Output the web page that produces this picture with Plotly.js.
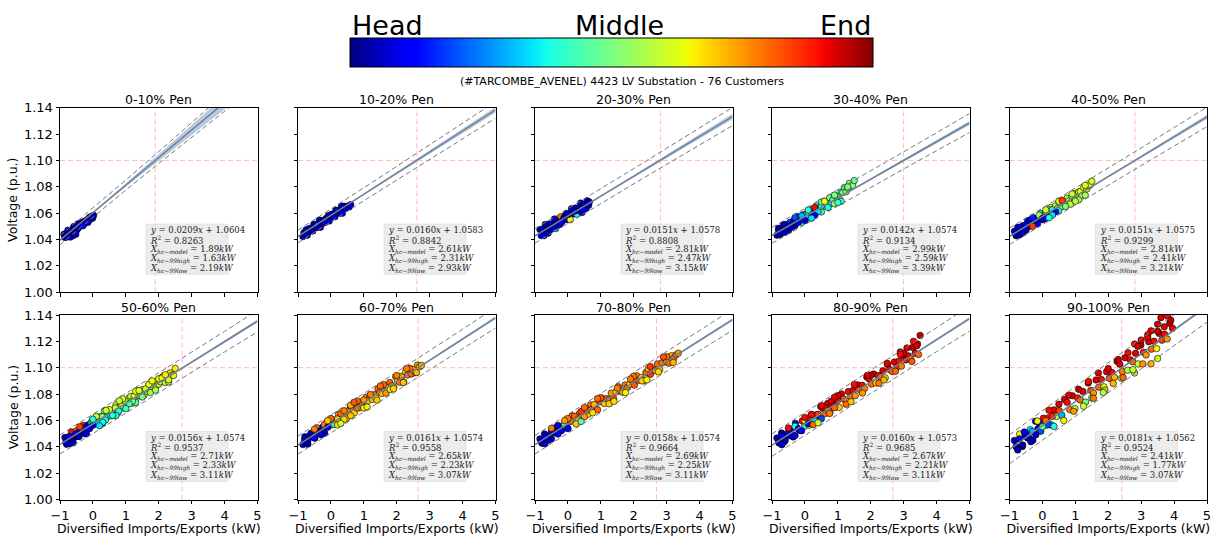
<!DOCTYPE html>
<html><head><meta charset="utf-8">
<script src="https://cdn.plot.ly/plotly-3.0.1.min.js"></script>
<style>html,body{margin:0;padding:0;background:#fff;}#chart{width:1213px;height:536px;}</style>
</head><body><div id="chart"></div>
<script>
// ---------- data ----------
const panelTitles = ['0-10% Pen','10-20% Pen','20-30% Pen','30-40% Pen','40-50% Pen','50-60% Pen','60-70% Pen','70-80% Pen','80-90% Pen','90-100% Pen'];
const slopes = [0.0209,0.0160,0.0151,0.0142,0.0151,0.0156,0.0161,0.0158,0.0160,0.0181];
const intercepts = [1.0604,1.0583,1.0578,1.0574,1.0575,1.0574,1.0574,1.0574,1.0573,1.0562];
const r2 = [0.8263,0.8842,0.8808,0.9134,0.9299,0.9537,0.9558,0.9664,0.9685,0.9524];
const xhcModel = [1.89,2.61,2.81,2.99,2.81,2.71,2.65,2.69,2.67,2.41];
const xhcHigh = [1.63,2.31,2.47,2.59,2.41,2.33,2.23,2.25,2.21,1.77];
const xhcLow = [2.19,2.93,3.15,3.39,3.21,3.11,3.07,3.11,3.11,3.07];
const xTicks = [-1,0,1,2,3,4,5];
const yTicks = [1.00,1.02,1.04,1.06,1.08,1.10,1.12,1.14];
const colorLabels = ['Head','Middle','End'];
const subTitle = '(#TARCOMBE_AVENEL) 4423 LV Substation - 76 Customers';
const xTitle = 'Diversified Imports/Exports (kW)';
const yTitle = 'Voltage (p.u.)';
const voltageLimit = 1.10;
// confidence band / prediction interval half-widths read at bandX
const bandX = [-1,0,1,2,3,4,5];
const ciHalf = [
 [0.0008,0.0004,0.0012,0.0025,0.0038,0.0052,0.0066],
 [0.0004,0.0003,0.0006,0.0010,0.0014,0.0018,0.0022],
 [0.0004,0.0003,0.0006,0.0009,0.0013,0.0017,0.0021],
 [0.0004,0.0003,0.0004,0.0007,0.0010,0.0013,0.0016],
 [0.0004,0.0003,0.0004,0.0007,0.0010,0.0013,0.0016],
 [0.0003,0.0002,0.0003,0.0005,0.0007,0.0009,0.0011],
 [0.0003,0.0002,0.0003,0.0005,0.0007,0.0009,0.0011],
 [0.0003,0.0002,0.0003,0.0005,0.0007,0.0009,0.0011],
 [0.0003,0.0002,0.0003,0.0005,0.0007,0.0009,0.0011],
 [0.0004,0.0003,0.0004,0.0006,0.0008,0.0010,0.0012]];
const piHalf = [
 [0.0035,0.0034,0.0038,0.0045,0.0055,0.0066,0.0078],
 [0.0048,0.0047,0.0049,0.0052,0.0055,0.0059,0.0063],
 [0.0055,0.0054,0.0056,0.0058,0.0061,0.0065,0.0069],
 [0.0060,0.0060,0.0060,0.0062,0.0065,0.0068,0.0072],
 [0.0062,0.0062,0.0062,0.0064,0.0067,0.0070,0.0074],
 [0.0072,0.0072,0.0072,0.0073,0.0075,0.0078,0.0082],
 [0.0068,0.0068,0.0068,0.0069,0.0071,0.0074,0.0078],
 [0.0070,0.0070,0.0070,0.0071,0.0073,0.0076,0.0080],
 [0.0085,0.0085,0.0085,0.0086,0.0088,0.0091,0.0095],
 [0.0110,0.0110,0.0110,0.0112,0.0115,0.0118,0.0122]];

// scatter points: x (kW), y (p.u.), c (position along feeder 0=head..1=end)
const p1x = [-0.88,-0.85,-0.82,-0.79,-0.76,-0.73,-0.70,-0.67,-0.64,-0.61,-0.58,-0.55,-0.52,-0.49,-0.46,-0.43,-0.40,-0.37,-0.34,-0.31,-0.28,-0.25,-0.22,-0.19,-0.16,-0.13,-0.10,-0.07,-0.04,-0.01,0.02,-0.75,-0.68,-0.60,-0.52,-0.45,-0.30,-0.15,-0.05];
const p1y = [1.0440,1.0416,1.0443,1.0419,1.0470,1.0446,1.0468,1.0439,1.0475,1.0462,1.0498,1.0469,1.0495,1.0472,1.0518,1.0499,1.0520,1.0502,1.0528,1.0519,1.0535,1.0522,1.0543,1.0539,1.0551,1.0542,1.0568,1.0559,1.0571,1.0562,1.0583,1.0425,1.0418,1.0430,1.0440,1.0485,1.0505,1.0530,1.0575];
const p1c = [0.05,0.08,0.04,0.1,0.06,0.03,0.09,0.05,0.07,0.1,0.04,0.08,0.06,0.05,0.09,0.03,0.07,0.1,0.05,0.08,0.06,0.04,0.09,0.07,0.05,0.1,0.06,0.08,0.04,0.07,0.05,0.06,0.09,0.04,0.07,0.05,0.1,0.08,0.06];

const p2x = [-0.85,-0.82,-0.78,-0.75,-0.72,-0.68,-0.65,-0.62,-0.58,-0.55,-0.52,-0.48,-0.45,-0.42,-0.38,-0.35,-0.32,-0.28,-0.25,-0.22,-0.18,-0.15,-0.12,-0.08,-0.05,-0.02,0.02,0.05,0.08,0.12,0.15,0.18,0.22,0.25,0.28,0.32,0.35,0.40,0.45,0.50,0.55,0.60];
const p2y = [1.0422,1.0452,1.0443,1.0473,1.0433,1.0469,1.0484,1.0464,1.0480,1.0465,1.0515,1.0491,1.0511,1.0491,1.0517,1.0547,1.0492,1.0543,1.0523,1.0538,1.0529,1.0559,1.0549,1.0580,1.0540,1.0575,1.0591,1.0571,1.0586,1.0572,1.0622,1.0597,1.0618,1.0598,1.0623,1.0654,1.0599,1.0652,1.0635,1.0653,1.0646,1.0664];
const p2c = [0.05,0.08,0.04,0.1,0.06,0.18,0.05,0.07,0.09,0.04,0.06,0.1,0.05,0.08,0.2,0.06,0.04,0.09,0.07,0.05,0.1,0.06,0.15,0.04,0.08,0.05,0.09,0.07,0.05,0.1,0.06,0.08,0.18,0.05,0.07,0.04,0.09,0.06,0.1,0.05,0.08,0.07];

const p3x = [-0.85,-0.81,-0.77,-0.73,-0.69,-0.65,-0.61,-0.57,-0.53,-0.49,-0.45,-0.41,-0.37,-0.33,-0.29,-0.25,-0.21,-0.17,-0.13,-0.09,-0.05,-0.01,0.03,0.07,0.11,0.15,0.19,0.23,0.27,0.31,0.35,0.39,0.43,0.47,0.51,0.55,0.59,0.63,-0.6,-0.4,-0.2,0.0,0.2,0.45,0.6,0.65];
const p3y = [1.0476,1.0430,1.0475,1.0429,1.0513,1.0480,1.0473,1.0518,1.0472,1.0517,1.0497,1.0555,1.0483,1.0528,1.0547,1.0514,1.0572,1.0539,1.0558,1.0577,1.0596,1.0550,1.0596,1.0550,1.0634,1.0601,1.0594,1.0639,1.0593,1.0638,1.0618,1.0676,1.0604,1.0649,1.0668,1.0635,1.0693,1.0660,1.0448,1.0500,1.0530,1.0590,1.0615,1.0630,1.0670,1.0685];
const p3c = [0.05,0.08,0.04,0.1,0.06,0.03,0.09,0.05,0.07,0.1,0.04,0.08,0.3,0.06,0.05,0.09,0.78,0.07,0.1,0.05,0.08,0.06,0.04,0.65,0.09,0.07,0.05,0.1,0.4,0.06,0.08,0.05,0.09,0.07,0.04,0.1,0.06,0.08,0.05,0.07,0.09,0.04,0.06,0.1,0.08,0.05];

const p4x = [-0.85,-0.80,-0.75,-0.70,-0.65,-0.60,-0.55,-0.50,-0.45,-0.40,-0.35,-0.30,-0.25,-0.20,-0.15,-0.10,-0.05,0.00,0.05,0.10,0.15,0.20,0.25,0.30,0.35,0.40,0.45,0.50,0.55,0.60,0.65,0.70,0.75,0.80,0.85,0.90,0.95,1.00,1.05,1.10,1.15,1.20,1.25,1.30,1.35,1.40,1.45,1.50,
 -0.8,-0.7,-0.6,-0.5,-0.4,-0.3,-0.2,-0.1,0.0,0.1,0.2,0.3,0.4,0.5,
 0.1,0.3,0.5,0.7,0.9,1.1,1.3,0.2,0.6,1.0,-0.6,-0.3];
const p4y = [1.0433,1.0485,1.0438,1.0485,1.0512,1.0474,1.0496,1.0468,1.0530,1.0512,1.0539,1.0506,1.0574,1.0536,1.0558,1.0530,1.0587,1.0584,1.0561,1.0618,1.0575,1.0627,1.0580,1.0627,1.0654,1.0616,1.0638,1.0610,1.0672,1.0654,1.0681,1.0648,1.0716,1.0678,1.0700,1.0672,1.0729,1.0726,1.0703,1.0760,1.0757,1.0794,1.0762,1.0789,1.0826,1.0798,1.0810,1.0847,
 1.0470,1.0455,1.0514,1.0493,1.0492,1.0561,1.0531,1.0580,1.0544,1.0603,1.0597,1.0642,1.0611,1.0655,
 1.0623,1.0582,1.0685,1.0643,1.0737,1.0690,1.0799,1.0562,1.0689,1.0681,1.0454,1.0566];
const p4c = [0.05,0.08,0.04,0.1,0.06,0.12,0.05,0.07,0.2,0.04,0.09,0.06,0.15,
 0.35,0.1,0.4,0.08,0.38,0.65,0.12,0.42,0.35,0.1,0.8,0.4,0.38,0.15,0.45,0.36,0.6,0.4,
 0.42,0.5,0.38,0.45,0.55,0.4,0.48,0.52,0.42,0.5,0.45,0.55,0.48,0.5,0.45,0.52,0.48,
 0.05,0.1,0.06,0.08,0.04,0.12,0.07,0.3,0.09,0.38,0.1,0.9,0.35,0.4,
 0.4,0.1,0.45,0.38,0.5,0.4,0.5,0.35,0.65,0.42,0.05,0.2];

const p5x = [-0.85,-0.80,-0.75,-0.70,-0.65,-0.60,-0.55,-0.50,-0.45,-0.40,-0.35,-0.30,-0.25,-0.20,-0.15,-0.10,-0.05,0.00,0.05,0.10,0.15,0.20,0.25,0.30,0.35,0.40,0.45,0.50,0.55,0.60,0.65,0.70,0.75,0.80,0.85,0.90,0.95,1.00,1.05,1.10,1.15,1.20,1.25,1.30,1.35,1.40,1.45,1.50,
 -0.8,-0.7,-0.6,-0.5,-0.4,-0.3,-0.2,-0.1,0.0,0.1,0.2,0.3,0.4,0.5,
 0.1,0.3,0.5,0.7,0.9,1.1,1.3,0.2,0.6,1.0,-0.6,-0.3];
const p5y = [1.0462,1.0429,1.0492,1.0434,1.0482,1.0504,1.0482,1.0470,1.0542,1.0500,1.0532,1.0510,1.0562,1.0540,1.0517,1.0575,1.0597,1.0550,1.0583,1.0610,1.0613,1.0580,1.0643,1.0585,1.0633,1.0655,1.0633,1.0621,1.0693,1.0651,1.0683,1.0661,1.0713,1.0691,1.0668,1.0726,1.0748,1.0701,1.0734,1.0761,1.0764,1.0731,1.0794,1.0736,1.0784,1.0806,1.0814,1.0842,
 1.0444,1.0489,1.0459,1.0510,1.0545,1.0500,1.0550,1.0585,1.0560,1.0560,1.0625,1.0625,1.0610,1.0681,
 1.0625,1.0585,1.0691,1.0651,1.0746,1.0701,1.0811,1.0565,1.0696,1.0691,1.0449,1.0565];
const p5c = [0.06,0.04,0.09,0.05,0.1,0.07,0.05,0.08,0.15,0.04,0.09,0.06,0.2,
 0.55,0.1,0.62,0.35,0.08,0.9,0.5,0.6,0.12,0.58,0.85,0.45,0.62,0.55,0.38,0.6,0.52,0.65,
 0.6,0.55,0.62,0.58,0.52,0.62,0.65,0.55,0.6,0.63,0.58,0.62,0.55,0.6,0.64,0.6,0.62,
 0.05,0.08,0.04,0.1,0.06,0.85,0.07,0.55,0.09,0.12,0.6,0.4,0.1,0.58,
 0.6,0.35,0.62,0.5,0.6,0.55,0.62,0.4,0.85,0.58,0.05,0.15];

const p6x = [-0.85,-0.80,-0.75,-0.70,-0.65,-0.60,-0.55,-0.50,-0.45,-0.40,-0.35,-0.30,-0.25,-0.20,-0.15,-0.10,-0.05,0.00,0.05,0.10,0.15,0.20,0.25,0.30,0.35,0.40,0.45,0.50,0.55,0.60,0.65,0.70,0.75,0.80,0.85,0.90,0.95,1.00,1.05,1.10,1.15,1.20,1.25,1.30,1.35,1.40,1.45,1.50,1.55,1.60,1.65,1.70,1.75,1.80,1.85,1.90,1.95,2.00,2.05,2.10,2.15,2.20,2.25,2.30,2.35,2.40,2.45,2.50,
 -0.82,-0.72,-0.62,-0.52,-0.42,-0.32,-0.22,-0.12,-0.02,0.08,0.18,0.28,0.38,0.48,0.58,0.68,0.78,0.88,0.98,1.20,1.60,2.00,
 0.1,0.3,0.5,0.7,0.9,1.1,1.3,1.5,1.7,1.9,2.1,2.3,0.2,0.4,0.6,0.8,1.0,1.4,1.8,2.2,-0.6,-0.4,-0.2,0.0];
const p6y = [1.0471,1.0419,1.0472,1.0425,1.0513,1.0475,1.0473,1.0521,1.0479,1.0522,1.0509,1.0562,1.0500,1.0548,1.0566,1.0538,1.0586,1.0564,1.0582,1.0615,1.0627,1.0575,1.0628,1.0581,1.0669,1.0631,1.0629,1.0677,1.0635,1.0678,1.0665,1.0718,1.0656,1.0704,1.0722,1.0694,1.0742,1.0720,1.0738,1.0771,1.0783,1.0731,1.0784,1.0737,1.0825,1.0787,1.0785,1.0833,1.0791,1.0834,1.0821,1.0874,1.0812,1.0860,1.0878,1.0850,1.0898,1.0876,1.0894,1.0927,1.0939,1.0887,1.0940,1.0893,1.0960,1.0943,1.0941,1.0995,
 1.0436,1.0477,1.0452,1.0498,1.0478,1.0544,1.0540,1.0540,1.0601,1.0581,1.0582,1.0628,1.0603,1.0674,1.0654,1.0695,1.0671,1.0716,1.0747,1.0746,1.0839,1.0916,
 1.0630,1.0586,1.0682,1.0638,1.0764,1.0726,1.0822,1.0778,1.0874,1.0830,1.0922,1.0908,1.0560,1.0676,1.0638,1.0749,1.0690,1.0827,1.0900,1.0947,1.0430,1.0552,1.0498,1.0609];
const p6c = [0.05,0.08,0.04,0.1,0.9,0.06,0.05,0.8,0.07,0.1,0.04,0.88,0.06,0.15,0.08,0.05,0.4,
 0.1,0.38,0.5,0.55,0.35,0.45,0.12,0.55,0.4,0.42,0.58,0.38,0.55,0.45,0.6,0.4,0.48,0.55,0.42,0.6,0.5,
 0.55,0.62,0.6,0.5,0.63,0.45,0.65,0.6,0.58,0.65,0.55,0.62,0.6,0.66,0.55,0.62,0.64,0.58,0.65,0.62,0.6,0.65,0.66,0.58,0.64,0.6,0.67,0.62,0.65,0.66,
 0.06,0.09,0.04,0.1,0.05,0.8,0.07,0.12,0.4,0.1,0.35,0.5,0.38,0.55,0.42,0.58,0.4,0.6,0.55,0.5,0.6,0.64,
 0.6,0.38,0.62,0.4,0.6,0.45,0.62,0.5,0.64,0.55,0.65,0.6,0.35,0.58,0.4,0.6,0.42,0.62,0.64,0.66,0.05,0.85,0.08,0.4];

const p7x = [-0.85,-0.79,-0.73,-0.67,-0.61,-0.55,-0.49,-0.43,-0.37,-0.31,-0.25,-0.19,-0.13,-0.07,-0.01,0.05,0.11,0.17,0.23,0.29,0.35,0.41,0.47,0.53,0.59,0.65,0.71,0.77,0.83,0.89,0.95,1.01,1.07,1.13,1.19,1.25,1.31,1.37,1.43,1.49,1.55,1.61,1.67,1.73,1.79,1.85,1.91,1.97,2.03,2.09,2.15,2.21,2.27,2.33,2.39,2.45,2.51,2.57,2.63,2.69,2.75,
 -0.8,-0.7,-0.6,-0.5,-0.4,-0.3,-0.2,-0.1,0.0,0.1,0.2,0.3,0.4,0.5,0.6,0.8,1.0,
 0.0,0.2,0.4,0.6,0.8,1.0,1.2,1.4,1.6,1.8,2.0,2.2,2.4,2.6,0.3,0.7,1.1,1.5,1.9,2.3,-0.7,-0.5,-0.3,-0.1];
const p7y = [1.0417,1.0477,1.0421,1.0476,1.0501,1.0475,1.0465,1.0545,1.0514,1.0504,1.0549,1.0503,1.0583,1.0558,1.0592,1.0567,1.0602,1.0576,1.0646,1.0621,1.0610,1.0670,1.0615,1.0669,1.0694,1.0669,1.0658,1.0738,1.0708,1.0697,1.0742,1.0697,1.0776,1.0751,1.0786,1.0760,1.0795,1.0770,1.0839,1.0814,1.0804,1.0863,1.0808,1.0863,1.0887,1.0862,1.0852,1.0931,1.0901,1.0890,1.0935,1.0890,1.0969,1.0944,1.0979,1.0953,1.0988,1.0963,1.1020,1.1007,1.1017,
 1.0455,1.0446,1.0497,1.0469,1.0515,1.0496,1.0567,1.0548,1.0609,1.0570,1.0611,1.0652,1.0608,1.0670,1.0716,1.0693,1.0755,
 1.0614,1.0566,1.0673,1.0636,1.0748,1.0695,1.0797,1.0754,1.0872,1.0834,1.0941,1.0888,1.0995,1.0963,1.0577,1.0737,1.0701,1.0861,1.0840,1.0994,1.0421,1.0534,1.0491,1.0598];
const p7c = [0.05,0.08,0.04,0.1,0.06,0.07,0.05,0.78,0.09,0.04,0.1,0.06,
 0.78,0.12,0.8,0.68,0.78,0.1,0.75,0.7,
 0.78,0.8,0.7,0.78,0.95,0.72,0.68,0.8,0.78,0.7,0.82,0.75,0.78,0.68,0.8,0.72,0.78,0.65,0.8,0.78,0.7,0.82,0.75,0.68,0.8,0.78,0.72,0.8,0.7,0.78,0.75,0.8,0.68,0.78,0.72,0.8,0.7,0.78,0.75,0.7,0.72,
 0.05,0.08,0.04,0.1,0.06,0.07,0.78,0.1,0.75,0.4,0.7,0.8,0.68,0.78,0.72,0.8,0.75,
 0.8,0.68,0.78,0.7,0.8,0.65,0.78,0.7,0.8,0.68,0.78,0.7,0.8,0.72,0.6,0.82,0.65,0.8,0.68,0.78,0.05,0.78,0.08,0.7];

const p8x = [-0.85,-0.78,-0.71,-0.64,-0.57,-0.50,-0.43,-0.36,-0.29,-0.22,-0.15,-0.08,-0.01,0.06,0.13,0.20,0.27,0.34,0.41,0.48,0.55,0.62,0.69,0.76,0.83,0.90,0.97,1.04,1.11,1.18,1.25,1.32,1.39,1.46,1.53,1.60,1.67,1.74,1.81,1.88,1.95,2.02,2.09,2.16,2.23,2.30,2.37,2.44,2.51,2.58,2.65,2.72,2.79,2.86,2.93,3.00,3.07,3.14,3.21,3.28,3.35,
 -0.8,-0.7,-0.6,-0.5,-0.4,-0.3,-0.2,-0.1,0.0,0.1,0.2,0.3,0.4,0.5,0.6,0.7,0.8,
 0.0,0.25,0.5,0.75,1.0,1.25,1.5,1.75,2.0,2.25,2.5,2.75,3.0,3.2,0.4,0.9,1.4,1.9,2.4,2.9,-0.7,-0.5,-0.3,-0.1];
const p8y = [1.0460,1.0426,1.0497,1.0463,1.0484,1.0460,1.0521,1.0547,1.0508,1.0544,1.0535,1.0586,1.0542,1.0593,1.0635,1.0601,1.0592,1.0648,1.0629,1.0655,1.0681,1.0647,1.0718,1.0684,1.0705,1.0681,1.0742,1.0768,1.0729,1.0765,1.0757,1.0808,1.0764,1.0815,1.0856,1.0822,1.0813,1.0869,1.0850,1.0876,1.0902,1.0868,1.0939,1.0905,1.0926,1.0902,1.0963,1.0990,1.0951,1.0987,1.0978,1.1029,1.0985,1.1036,1.1077,1.1043,1.1034,1.1090,1.1071,1.1097,1.1110,
 1.0433,1.0473,1.0449,1.0520,1.0506,1.0562,1.0522,1.0573,1.0539,1.0595,1.0631,1.0606,1.0667,1.0628,1.0679,1.0680,1.0720,
 1.0614,1.0574,1.0698,1.0658,1.0772,1.0727,1.0846,1.0811,1.0935,1.0900,1.1009,1.0969,1.1083,1.1040,1.0592,1.0766,1.0745,1.0914,1.0908,1.1082,1.0423,1.0540,1.0497,1.0598];
const p8c = [0.05,0.08,0.04,0.1,0.06,0.07,0.09,0.05,0.08,0.1,
 0.4,0.12,0.78,0.35,0.8,0.7,0.1,
 0.8,0.75,0.78,0.82,0.68,0.8,0.78,0.72,0.8,0.85,0.78,0.7,0.8,0.78,0.75,0.82,0.7,0.78,0.8,0.72,0.78,0.8,0.68,0.78,0.82,0.75,0.8,0.7,0.78,0.8,0.72,0.85,0.78,0.75,0.8,0.7,0.78,0.82,0.75,0.8,0.72,0.78,0.8,0.75,
 0.06,0.09,0.05,0.1,0.04,0.08,0.12,0.45,0.1,0.78,0.8,0.7,0.85,0.75,0.78,0.8,0.72,
 0.78,0.7,0.8,0.68,0.82,0.7,0.78,0.65,0.8,0.7,0.85,0.68,0.8,0.72,0.45,0.8,0.68,0.78,0.65,0.82,0.05,0.78,0.1,0.75];

const p9x = [-0.85,-0.78,-0.71,-0.64,-0.57,-0.50,-0.43,-0.36,-0.29,-0.22,-0.15,-0.08,-0.01,0.06,0.13,0.20,0.27,0.34,0.41,0.48,0.55,0.62,0.69,0.76,0.83,0.90,0.97,1.04,1.11,1.18,1.25,1.32,1.39,1.46,1.53,1.60,1.67,1.74,1.81,1.88,1.95,2.02,2.09,2.16,2.23,2.30,2.37,2.44,2.51,2.58,2.65,2.72,2.79,2.86,2.93,3.00,3.07,3.14,3.21,3.28,3.35,
 3.42,3.50,3.45,3.30,3.10,2.90,
 -0.8,-0.7,-0.6,-0.5,-0.4,-0.3,-0.2,-0.1,0.0,0.1,0.2,0.3,0.4,0.5,0.6,0.7,0.8,0.9,1.0,
 0.0,0.25,0.5,0.75,1.0,1.25,1.5,1.75,2.0,2.25,2.5,2.75,3.0,3.25,0.4,0.9,1.4,1.9,2.4,2.9,3.4,-0.7,-0.5,-0.3];
const p9y = [1.0467,1.0428,1.0504,1.0436,1.0492,1.0483,1.0529,1.0475,1.0577,1.0538,1.0524,1.0595,1.0556,1.0603,1.0564,1.0645,1.0611,1.0642,1.0619,1.0705,1.0691,1.0652,1.0728,1.0660,1.0716,1.0707,1.0753,1.0699,1.0801,1.0762,1.0748,1.0819,1.0780,1.0827,1.0788,1.0869,1.0835,1.0866,1.0843,1.0929,1.0915,1.0876,1.0952,1.0884,1.0940,1.0931,1.0977,1.0923,1.1025,1.0986,1.0972,1.1043,1.1004,1.1051,1.1012,1.1093,1.1059,1.1090,1.1067,1.1153,1.1109,
 1.1180,1.1245,1.1100,1.1200,1.1150,1.1120,
 1.0435,1.0481,1.0447,1.0508,1.0489,1.0555,1.0536,1.0522,1.0598,1.0574,1.0645,1.0596,1.0647,1.0613,1.0699,1.0675,1.0746,1.0697,1.0753,
 1.0623,1.0568,1.0713,1.0653,1.0788,1.0723,1.0873,1.0808,1.0943,1.0883,1.1033,1.0973,1.1108,1.1048,1.0582,1.0777,1.0742,1.0942,1.0907,1.1102,1.1167,1.0416,1.0543,1.0485];
const p9c = [0.05,0.08,0.04,0.1,0.06,0.07,0.09,0.05,0.08,0.1,
 0.12,0.9,0.4,0.88,0.6,0.92,0.78,0.85,0.2,
 0.92,0.9,0.8,0.93,0.72,0.9,0.8,0.92,0.7,0.93,0.82,0.78,0.9,0.8,0.92,0.75,0.93,0.82,0.9,0.78,0.95,0.9,0.8,0.93,0.7,0.9,0.8,0.92,0.68,0.93,0.9,0.8,0.92,0.88,0.9,0.78,0.93,0.9,0.92,0.8,0.95,0.9,
 0.92,0.95,0.8,0.9,0.92,0.93,
 0.05,0.08,0.04,0.1,0.06,0.4,0.07,0.12,0.62,0.1,0.9,0.35,0.85,0.2,0.92,0.78,0.93,0.8,0.9,
 0.9,0.8,0.92,0.78,0.93,0.8,0.9,0.75,0.93,0.78,0.92,0.8,0.95,0.82,0.6,0.92,0.7,0.93,0.72,0.9,0.92,0.05,0.9,0.1];

const p10x = [-0.85,-0.77,-0.69,-0.61,-0.53,-0.45,-0.37,-0.29,-0.21,-0.13,-0.05,0.03,0.11,0.19,0.27,0.35,0.43,0.51,0.59,0.67,0.75,0.83,0.91,0.99,1.07,1.15,1.23,1.31,1.39,1.47,1.55,1.63,1.71,1.79,1.87,1.95,2.03,2.11,2.19,2.27,2.35,2.43,2.51,2.59,2.67,2.75,2.83,2.91,2.99,3.07,3.15,3.23,3.31,3.39,3.47,3.55,3.63,3.71,3.79,3.87,3.95,
 3.3,3.5,3.6,3.8,3.9,3.7,3.2,3.0,2.8,3.5,3.3,2.8,2.4,1.9,1.5,
 -0.8,-0.7,-0.6,-0.5,-0.4,-0.3,-0.2,-0.1,0.0,0.1,0.2,0.3,
 0.2,0.5,0.8,1.1,1.4,1.7,2.0,2.3,2.6,2.9,3.2,3.5,0.35,0.65,0.95,1.25,1.55,1.85,2.15,2.45,2.75,3.05,-0.75,-0.55,-0.35,-0.15];
const p10y = [1.0448,1.0393,1.0497,1.0402,1.0481,1.0466,1.0530,1.0450,1.0594,1.0538,1.0518,1.0617,1.0562,1.0621,1.0566,1.0680,1.0630,1.0674,1.0639,1.0758,1.0738,1.0682,1.0787,1.0691,1.0771,1.0755,1.0820,1.0739,1.0884,1.0828,1.0808,1.0907,1.0852,1.0911,1.0855,1.0970,1.0919,1.0964,1.0928,1.1048,1.1027,1.0972,1.1076,1.0981,1.1060,1.1045,1.1109,1.1029,1.1173,1.1118,1.1097,1.1197,1.1141,1.1201,1.1145,1.1260,1.1209,1.1254,1.1218,1.1337,1.1300,
 1.128,1.133,1.138,1.139,1.136,1.131,1.125,1.121,1.118,1.107,1.103,1.096,1.092,1.083,1.077,
 1.0402,1.0460,1.0413,1.0502,1.0465,1.0518,1.0491,1.0584,1.0552,1.0600,1.0568,1.0631,
 1.0678,1.0723,1.0792,1.0836,1.0895,1.0960,1.0994,1.1063,1.1113,1.1162,1.1231,1.1276,1.0555,1.0600,1.0669,1.0708,1.0768,1.0812,1.0881,1.0925,1.0985,1.1029,1.0376,1.0512,1.0439,1.0595];
const p10c = [0.05,0.08,0.65,0.04,0.1,0.06,0.35,0.07,0.09,0.05,0.2,
 0.9,0.55,0.88,0.35,0.92,0.6,0.85,0.3,0.93,0.9,
 0.78,0.92,0.55,0.88,0.8,0.92,0.5,0.95,0.85,0.75,0.93,0.8,0.9,0.6,0.93,0.82,0.9,0.72,0.95,0.92,0.78,0.93,0.55,0.9,0.8,0.92,0.6,0.95,0.88,0.75,0.93,0.8,0.9,0.65,0.93,0.85,0.9,0.75,0.95,0.92,
 0.92,0.95,0.93,0.9,0.95,0.92,0.9,0.93,0.9,0.6,0.72,0.55,0.6,0.7,0.5,
 0.05,0.08,0.04,0.1,0.06,0.3,0.07,0.1,0.45,0.8,0.2,0.88,
 0.9,0.93,0.92,0.95,0.9,0.93,0.92,0.95,0.9,0.93,0.92,0.95,0.4,0.65,0.75,0.6,0.78,0.55,0.72,0.8,0.6,0.75,0.05,0.1,0.06,0.65];

// ---------- styling / layout ----------
const PX=[p1x,p2x,p3x,p4x,p5x,p6x,p7x,p8x,p9x,p10x];
const PY=[p1y,p2y,p3y,p4y,p5y,p6y,p7y,p8y,p9y,p10y];
const PC=[p1c,p2c,p3c,p4c,p5c,p6c,p7c,p8c,p9c,p10c];
const W=1213,H=536;
const colLeft=[60,298,535,772,1009.5], panelW=197.5;
const rowTop=[107.7,315], panelH=184.5;
const FONT='DejaVu Sans, Arial, sans-serif';
const jet=[[0,'rgb(0,0,128)'],[0.11,'rgb(0,0,255)'],[0.125,'rgb(0,0,255)'],[0.34,'rgb(0,219,255)'],[0.35,'rgb(0,229,255)'],[0.375,'rgb(20,255,235)'],[0.64,'rgb(235,255,8)'],[0.66,'rgb(255,237,0)'],[0.89,'rgb(255,18,0)'],[0.91,'rgb(242,0,0)'],[1,'rgb(128,0,0)']];

const traces=[]; const annotations=[]; const shapes=[];
const layout={width:W,height:H,margin:{l:0,r:0,t:0,b:0},paper_bgcolor:'#fff',plot_bgcolor:'#fff',showlegend:false,font:{family:FONT,color:'#000'}};

for(let i=0;i<10;i++){
  const r=Math.floor(i/5), c=i%5, s=i===0?'':String(i+1);
  const xa='x'+s, ya='y'+s;
  const x0=colLeft[c], y0=rowTop[r];
  layout['xaxis'+s]={domain:[x0/W,(x0+panelW)/W],anchor:ya,range:[-1,5],tickvals:xTicks,
    showticklabels:r===1,ticks:'outside',ticklen:3.5,tickwidth:1,tickcolor:'#000',
    showline:true,mirror:true,linecolor:'#000',linewidth:1,showgrid:false,zeroline:false,
    tickfont:{family:FONT,size:13,color:'#000'},
    title: r===1?{text:xTitle,font:{family:FONT,size:12.5,color:'#000'},standoff:2}:{text:''}};
  layout['yaxis'+s]={domain:[1-(y0+panelH)/H,1-y0/H],anchor:xa,range:[1.0,1.14],tickvals:yTicks,tickformat:'.2f',
    showticklabels:c===0,ticks:'outside',ticklen:3.5,tickwidth:1,tickcolor:'#000',
    showline:true,mirror:true,linecolor:'#000',linewidth:1,showgrid:false,zeroline:false,
    tickfont:{family:FONT,size:13,color:'#000'},title:{text:''}};
  if(c===0){
    annotations.push({xref:'paper',yref:'paper',x:13/W,y:1-(y0+panelH/2)/H,xanchor:'center',yanchor:'middle',textangle:-90,showarrow:false,
      text:yTitle,font:{family:FONT,size:12.5,color:'#000'}});
  }

  const a=slopes[i], b=intercepts[i];
  const fit=bandX.map(x=>a*x+b);
  traces.push({x:bandX,y:fit.map((v,j)=>v-ciHalf[i][j]),xaxis:xa,yaxis:ya,mode:'lines',line:{width:0},hoverinfo:'skip'});
  traces.push({x:bandX,y:fit.map((v,j)=>v+ciHalf[i][j]),xaxis:xa,yaxis:ya,mode:'lines',line:{width:0},fill:'tonexty',fillcolor:'rgba(176,196,222,0.9)',hoverinfo:'skip'});
  const m={color:PC[i],colorscale:jet,cmin:0,cmax:1,size:6.5,line:{color:'#000',width:0.6}};
  if(i===0){
    m.showscale=true;
    m.colorbar={orientation:'h',x:611.5/W,xanchor:'center',y:1-38/H,yanchor:'top',len:523,lenmode:'pixels',
      thickness:29,thicknessmode:'pixels',outlinewidth:1,outlinecolor:'#000',showticklabels:false,ticks:'',xpad:0,ypad:0,borderwidth:0};
  }
  traces.push({x:PX[i],y:PY[i],xaxis:xa,yaxis:ya,mode:'markers',marker:m,hoverinfo:'skip'});
  traces.push({x:bandX,y:fit,xaxis:xa,yaxis:ya,mode:'lines',line:{color:'rgb(112,128,150)',width:1.5},hoverinfo:'skip'});
  traces.push({x:bandX,y:fit.map((v,j)=>v+piHalf[i][j]),xaxis:xa,yaxis:ya,mode:'lines',line:{color:'rgb(120,120,120)',width:1,dash:'5px,3px'},hoverinfo:'skip'});
  traces.push({x:bandX,y:fit.map((v,j)=>v-piHalf[i][j]),xaxis:xa,yaxis:ya,mode:'lines',line:{color:'rgb(120,120,120)',width:1,dash:'5px,3px'},hoverinfo:'skip'});

  shapes.push({type:'line',xref:xa,yref:ya+' domain',x0:xhcModel[i],x1:xhcModel[i],y0:0,y1:1,line:{color:'rgba(255,160,170,0.75)',width:1,dash:'5px,3px'},layer:'below'});
  shapes.push({type:'line',xref:xa+' domain',yref:ya,x0:0,x1:1,y0:voltageLimit,y1:voltageLimit,line:{color:'rgba(255,160,170,0.75)',width:1,dash:'5px,3px'},layer:'below'});

  annotations.push({xref:'paper',yref:'paper',x:(x0+panelW/2)/W,y:1-(y0-8)/H,xanchor:'center',yanchor:'middle',showarrow:false,
    text:panelTitles[i],font:{family:FONT,size:12.5,color:'#000'}});

  // stats box: background rectangle + one text per line
  const bx=x0+86, by=y0+116.5, bw=82, bh=50;
  shapes.push({type:'rect',xref:'paper',yref:'paper',x0:bx/W,x1:(bx+bw)/W,y0:1-(by+bh)/H,y1:1-by/H,
    fillcolor:'rgba(233,233,233,0.85)',line:{color:'rgba(215,215,215,1)',width:0.6},layer:'above'});
  const lines=['<i>y</i> = '+a.toFixed(4)+'<i>x</i> + '+b.toFixed(4),
    '<i>R</i><sup>2</sup> = '+r2[i].toFixed(4),
    '<i>X<sub>hc\u2212model</sub></i> = '+xhcModel[i].toFixed(2)+'<i>kW</i>',
    '<i>X<sub>hc\u221299high</sub></i> = '+xhcHigh[i].toFixed(2)+'<i>kW</i>',
    '<i>X<sub>hc\u221299low</sub></i> = '+xhcLow[i].toFixed(2)+'<i>kW</i>'];
  lines.forEach((t,k)=>{
    annotations.push({xref:'paper',yref:'paper',x:(bx+2)/W,y:1-(by+6+9.6*k)/H,xanchor:'left',yanchor:'middle',align:'left',showarrow:false,
      text:t,font:{family:'DejaVu Serif, serif',size:8.5,color:'#1a1a1a'}});
  });
}
annotations.push({xref:'paper',yref:'paper',x:350/W,y:1-25/H,xanchor:'left',yanchor:'middle',showarrow:false,text:colorLabels[0],font:{family:FONT,size:27,color:'#000'}});
annotations.push({xref:'paper',yref:'paper',x:619/W,y:1-25/H,xanchor:'center',yanchor:'middle',showarrow:false,text:colorLabels[1],font:{family:FONT,size:27,color:'#000'}});
annotations.push({xref:'paper',yref:'paper',x:873/W,y:1-25/H,xanchor:'right',yanchor:'middle',showarrow:false,text:colorLabels[2],font:{family:FONT,size:27,color:'#000'}});
annotations.push({xref:'paper',yref:'paper',x:622/W,y:1-81/H,xanchor:'center',yanchor:'middle',showarrow:false,text:subTitle,font:{family:FONT,size:11,color:'#000'}});

layout.annotations=annotations; layout.shapes=shapes;
Plotly.newPlot('chart',traces,layout,{displayModeBar:false,staticPlot:true});
</script></body></html>
